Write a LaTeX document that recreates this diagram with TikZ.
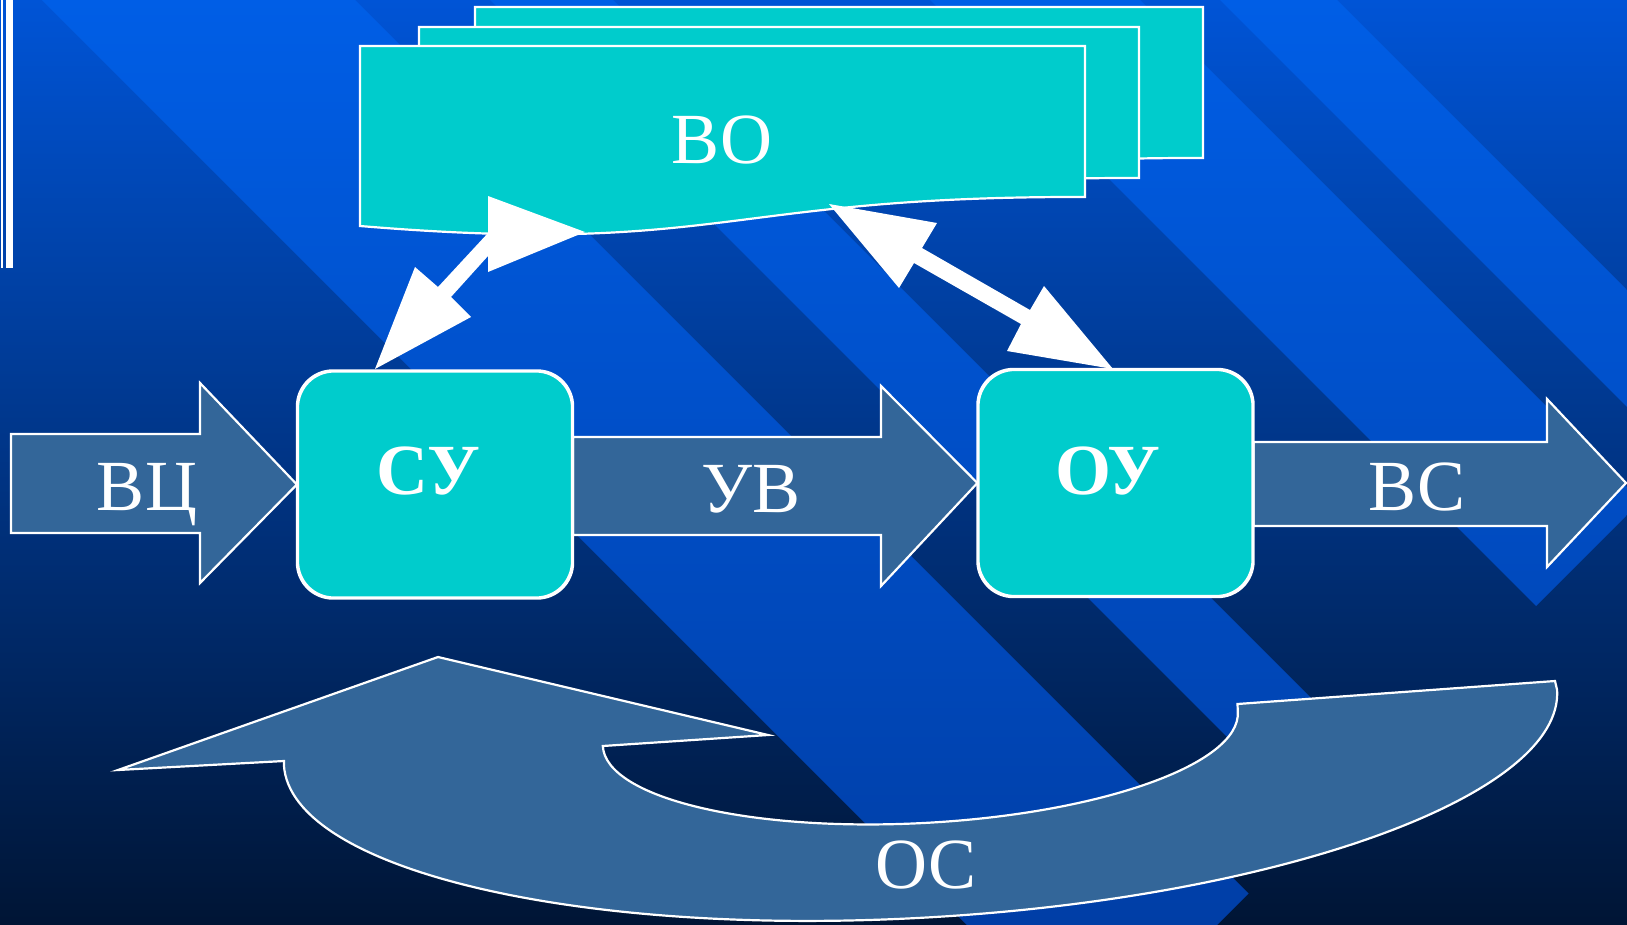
\documentclass[tikz,border=0pt]{standalone}
\usepackage{fontspec}
\setmainfont{Liberation Serif}
\usetikzlibrary{calc}

\definecolor{basetop}{HTML}{0054D6}
\definecolor{basebot}{HTML}{001535}
\definecolor{bandtop}{HTML}{005EE6}
\definecolor{bandbot}{HTML}{003EA6}
\definecolor{boxfill}{HTML}{00CCCC}
\definecolor{arrowfill}{HTML}{336699}

\tikzset{
  outline/.style={draw=white, line width=2.2pt, line join=miter},
  docpage/.style={outline, fill=boxfill},
  blockarrow/.style={outline, fill=arrowfill},
  unitbox/.style={draw=white, line width=2.2pt, fill=boxfill, rounded corners=36pt,
    minimum width=274pt, minimum height=226pt, inner sep=0pt},
  lbl/.style={text=white, font=\fontsize{72}{80}\selectfont, inner sep=0pt, anchor=base},
  lblb/.style={text=white, font=\fontsize{72}{80}\selectfont\bfseries, inner sep=0pt, anchor=base},
  linkarrow/.style={fill=white},
}

\begin{document}
\begin{tikzpicture}[x=1pt, y=-1pt]
\useasboundingbox (0,0) rectangle (1627,924);
\clip (0,0) rectangle (1627,924);

% background: vertical gradient with lighter diagonal bands
\shade[top color=basetop, bottom color=basebot] (0,0) rectangle (1627,924);
\begin{scope}
  \clip (42,0) -- (355,0) -- (1248.5,893.5) -- (1092,1050) -- cycle
        (490,0) -- (613,0) -- (1377.5,764.5) -- (1316,826) -- cycle
        (930,0) -- (1140,0) -- (1641,501) -- (1536,606) -- cycle
        (1220,0) -- (1337,0) -- (1739.5,402.5) -- (1681,461) -- cycle;
  \shade[top color=bandtop, bottom color=bandbot] (0,0) rectangle (1627,924);
\end{scope}

% double rule at the upper left
\fill[white] (0.7,0) rectangle (3,268);
\fill[white] (5.7,0) rectangle (12.7,268);

% feedback arrow
\draw[blockarrow] (118,770) -- (438,657) -- (768,735) -- (602.8,746)
  .. controls (605.6,797.9) and (749.9,832.3) .. (925.3,822.9)
  .. controls (1100.7,813.5) and (1240.6,763.9) .. (1237.8,712)
  -- (1237.5,704) -- (1555,681) -- (1557.1,690)
  .. controls (1563.3,794.8) and (1283.3,896.5) .. (931.7,917.2)
  .. controls (580.1,937.9) and (290.1,869.8) .. (283.9,765)
  -- (284,761) -- cycle;
\node[lbl] (os) at (926,888) {ОС};

% stacked documents
\draw[docpage] (475,7) -- (1203,7) -- (1203,158)
  .. controls (839,157) and (839,217) .. (475,187) -- cycle;
\draw[docpage] (419,27) -- (1139,27) -- (1139,178)
  .. controls (779,177) and (779,237) .. (419,207) -- cycle;
\draw[docpage] (360,46) -- (1085,46) -- (1085,197)
  .. controls (722,196) and (722,256) .. (360,226) -- cycle;
\node[lbl] (vo) at (722,163) {ВО};

% units
\node[unitbox] (su) at (435,484.5) {};
\node[unitbox] (ou) at (1115.5,483) {};
\node[lblb] (sulbl) at (428,494) {СУ};
\node[lblb] (oulbl) at (1108,494) {ОУ};

% two-way links between the documents and the units
\fill[linkarrow] (585,232) -- (488,196) -- (488,233) -- (438,287) -- (415,267)
  -- (375,369) -- (471,317) -- (451,297) -- (488,256) -- (488,272) -- cycle;
\fill[linkarrow] (829,204) -- (937,223) -- (922,248) -- (1030,310) -- (1044,286)
  -- (1113,369) -- (1007,351) -- (1021,324) -- (914,263) -- (899,288) -- cycle;

% signal flow arrows
\draw[blockarrow] (11,434) -- (200,434) -- (200,383) -- (su.west) -- (200,583)
  -- (200,533) -- (11,533) -- cycle;
\node[lbl] (vc) at (147,510) {ВЦ};

\draw[blockarrow] (su.east |- 0,437) -- (881,437) -- (881,386) -- (ou.west)
  -- (881,586) -- (881,535) -- (su.east |- 0,535) -- cycle;
\node[lbl] (uv) at (751,512) {УВ};

\coordinate (out) at (1626,483);
\draw[blockarrow] (ou.east |- 0,442) -- (1547,442) -- (1547,399) -- (out)
  -- (1547,567) -- (1547,526) -- (ou.east |- 0,526) -- cycle;
\node[lbl] (vs) at (1417,510) {ВС};

% redraw unit outlines on top of the arrow ends
\draw[white, line width=2.2pt, rounded corners=36pt] (su.south west) rectangle (su.north east);
\draw[white, line width=2.2pt, rounded corners=36pt] (ou.south west) rectangle (ou.north east);
\end{tikzpicture}
\end{document}
